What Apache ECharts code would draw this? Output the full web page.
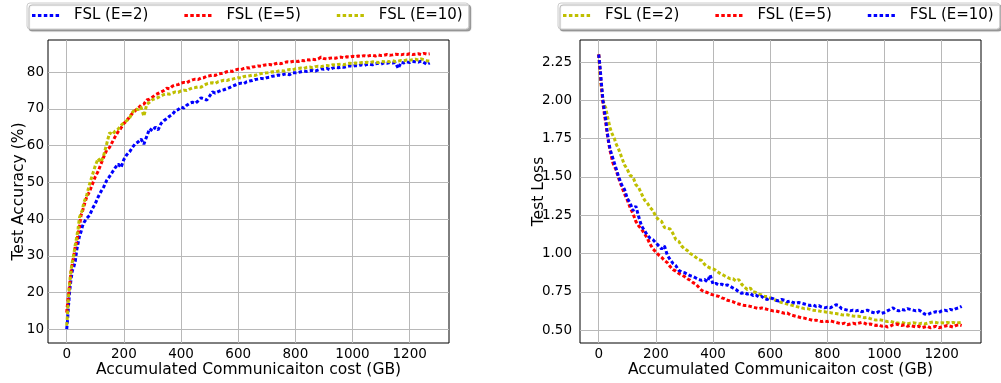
<!DOCTYPE html>
<html>
<head>
<meta charset="utf-8">
<script src="https://cdn.jsdelivr.net/npm/echarts@6/dist/echarts.min.js"></script>
<style>
html,body{margin:0;padding:0;background:#fff;}
#chart{width:1001px;height:383px;}
</style>
</head>
<body>
<div id="chart"></div>
<script>
// ---- data ----
const COST = [0,3,6,10,15,20,25,30,35,40,45,50,55,60,
70,80,90,100,110,120,130,140,150,160,
170,180,190,200,210,220,230,240,250,260,
270,280,290,300,310,320,330,340,350,360,
370,380,390,400,410,420,430,440,450,460,
470,480,490,500,510,520,530,540,550,560,
570,580,590,600,610,620,630,640,650,660,
670,680,690,700,710,720,730,740,750,760,
770,780,790,800,810,820,830,840,850,860,
870,880,890,900,910,920,930,940,950,960,
970,980,990,1000,1010,1020,1030,1040,1050,1060,
1070,1080,1090,1100,1110,1120,1130,1140,1150,1160,
1170,1180,1190,1200,1210,1220,1230,1240,1250,1260,
1270];

// Test accuracy (%) - left panel
const ACC_E2 = [10,12.5,16,20,23.5,26,27,28.5,31.5,33.5,35.5,36.5,38,39,
40.2,41,42.8,44.2,46,47.5,48.8,50.5,51.6,52.8,
54,55,54,56.2,57.5,58.3,59.5,60.5,61,61.8,
60.4,62.5,64.6,64,65,64.3,66,66.8,67.3,68,
68.5,69.5,69.8,70.5,70.2,71,71.5,71.8,71.5,72.2,
73,72.8,72.4,73.5,74.6,74.3,74.7,75,75.2,75.5,
75.8,76.2,76.5,76.8,77,76.9,77.4,77.6,77.7,78,
78.1,78.3,78.2,78.5,78.6,78.9,79,79.2,79.1,79.4,
79.5,79.3,79.8,79.8,79.9,80.1,80.3,80.2,80.4,80.5,
80.3,80.6,80.9,80.8,81,80.7,81.1,81.3,81.2,81.4,
81.3,81.5,81.7,81.6,81.8,81.7,82,81.8,82.1,82.2,
82,82.3,82.4,82.2,82.5,82.4,82.6,82.5,82.6,81,
82.7,82.5,82.8,82.6,82.9,82.8,82.7,83,82.6,82.1,
82.5];
const ACC_E5 = [14.5,17,19,22,25.5,28,30,32.5,33.5,36,38,41,42,43.5,
46,47.5,49.5,51.5,53,55,57,58.8,59.5,61,
62.5,63.8,64.8,66,66.8,67.8,68.8,69.5,70.2,71,
71.3,72.4,72.6,73.2,73.8,74.2,74.6,75,75.6,75.5,
76.2,76.5,76.6,77,77.2,77.1,77.6,77.9,78.1,78,
78.4,78.5,78.9,79,79.2,79.1,79.5,79.6,79.8,80.1,
80.3,80.2,80.6,80.8,80.7,81,81.2,81.1,81.4,81.5,
81.7,81.6,81.9,82,82.1,81.9,82.3,82.5,82.3,82.6,
82.8,82.7,82.9,83,82.9,83.2,83.1,83.4,83.3,83.5,
83.4,83.6,84.1,83.7,83.6,83.8,83.9,83.8,84,84.1,
83.9,84.2,84.1,84.3,84.2,84.4,84.3,84.5,84.3,84.5,
84.6,84.4,84.7,84.5,84.6,84.8,84.6,84.7,84.9,84.8,
84.7,84.9,84.8,85,84.8,84.9,85,84.8,85.1,84.9,
85];
const ACC_E10 = [11,14,18.5,22,26,28.5,30.5,33,35,37.5,40.5,41.5,42.5,44.5,
46.5,49.5,52,54.5,56.5,55.5,57.5,60.5,63.5,63,
64,64.5,65.5,66.2,66.8,67.5,69,70,69.8,70.5,
68,71.2,71.8,72.5,72.8,73.1,73.5,73.9,74.1,74,
74.3,74.6,74.5,74.9,75.1,75,75.4,75.7,75.8,76,
75.9,76.4,76.8,77,77.1,76.9,77.4,77.6,77.8,77.7,
78,78.1,78.3,78.5,78.4,78.8,78.9,79,79.2,79.1,
79.4,79.6,79.7,79.8,79.9,80.1,80,80.3,80.4,80.3,
80.6,80.7,80.6,80.9,81,81.1,81,81.3,81.4,81.2,
81.5,81.6,81.5,81.7,81.8,81.7,82,81.9,82.1,82.2,
82,82.3,82.4,82.3,82.5,82.4,82.6,82.5,82.7,82.6,
82.8,82.7,82.6,82.9,82.8,83,82.8,83.1,82.9,83,
83.2,83.1,83.3,83.2,83.4,83.5,83.3,83.6,83.4,83.1,
83];

// Test loss - right panel
const LOSS_E2 = [2.30,2.22,2.14,2.08,2.00,1.97,1.95,1.90,1.86,1.82,1.79,1.77,1.75,1.72,
1.68,1.63,1.58,1.55,1.51,1.50,1.45,1.43,1.39,1.35,
1.33,1.30,1.28,1.24,1.22,1.21,1.17,1.165,1.16,1.13,
1.09,1.08,1.05,1.03,1.02,1.00,0.99,0.975,0.96,0.955,
0.93,0.915,0.905,0.90,0.89,0.875,0.865,0.855,0.845,0.835,
0.835,0.82,0.83,0.80,0.78,0.765,0.775,0.75,0.745,0.735,
0.73,0.72,0.72,0.71,0.70,0.695,0.685,0.68,0.675,0.67,
0.665,0.66,0.655,0.65,0.645,0.64,0.64,0.635,0.63,0.628,
0.625,0.62,0.62,0.615,0.614,0.61,0.608,0.605,0.60,0.598,
0.60,0.595,0.592,0.59,0.59,0.585,0.58,0.582,0.575,0.57,
0.565,0.568,0.565,0.56,0.555,0.558,0.552,0.548,0.545,0.55,
0.545,0.54,0.545,0.548,0.545,0.54,0.545,0.54,0.545,0.55,
0.553,0.55,0.545,0.548,0.545,0.55,0.545,0.55,0.545,0.548,
0.55];
const LOSS_E5 = [2.30,2.24,2.17,2.08,1.98,1.91,1.85,1.78,1.72,1.67,1.63,1.59,1.57,1.55,
1.49,1.44,1.39,1.35,1.30,1.26,1.21,1.18,1.16,1.13,
1.10,1.06,1.03,1.01,0.99,0.975,0.955,0.94,0.915,0.895,
0.885,0.87,0.86,0.85,0.835,0.825,0.81,0.80,0.78,0.76,
0.75,0.745,0.735,0.73,0.725,0.72,0.71,0.705,0.695,0.69,
0.685,0.675,0.67,0.665,0.66,0.66,0.655,0.65,0.645,0.64,
0.645,0.64,0.635,0.63,0.625,0.625,0.62,0.615,0.61,0.612,
0.60,0.595,0.59,0.585,0.58,0.578,0.572,0.568,0.562,0.565,
0.56,0.555,0.56,0.555,0.56,0.555,0.55,0.545,0.54,0.545,
0.535,0.54,0.545,0.54,0.545,0.55,0.545,0.535,0.54,0.535,
0.53,0.535,0.525,0.53,0.52,0.525,0.535,0.54,0.535,0.53,
0.535,0.525,0.53,0.525,0.52,0.525,0.515,0.52,0.525,0.515,
0.52,0.525,0.515,0.52,0.525,0.53,0.525,0.52,0.53,0.535,
0.53];
const LOSS_E10 = [2.30,2.25,2.19,2.10,2.00,1.93,1.87,1.79,1.73,1.68,1.65,1.62,1.59,1.56,
1.50,1.45,1.42,1.36,1.33,1.28,1.31,1.24,1.18,1.15,
1.12,1.10,1.09,1.07,1.05,1.03,1.05,0.99,0.96,0.935,
0.92,0.89,0.88,0.875,0.865,0.855,0.85,0.84,0.83,0.825,
0.83,0.815,0.86,0.80,0.805,0.795,0.80,0.79,0.795,0.785,
0.775,0.765,0.75,0.74,0.745,0.735,0.74,0.725,0.73,0.715,
0.72,0.705,0.70,0.71,0.705,0.695,0.69,0.70,0.695,0.685,
0.69,0.68,0.675,0.68,0.675,0.67,0.665,0.66,0.665,0.655,
0.66,0.65,0.645,0.65,0.645,0.655,0.665,0.66,0.64,0.635,
0.63,0.625,0.63,0.625,0.63,0.62,0.625,0.63,0.62,0.615,
0.61,0.62,0.61,0.615,0.625,0.635,0.645,0.63,0.625,0.635,
0.63,0.64,0.635,0.63,0.625,0.63,0.62,0.605,0.60,0.61,
0.615,0.62,0.615,0.625,0.63,0.625,0.635,0.63,0.64,0.645,
0.655];

const X_TICKS = [0,200,400,600,800,1000,1200];
const ACC_TICKS = [10,20,30,40,50,60,70,80];
const LOSS_TICKS = [0.5,0.75,1.0,1.25,1.5,1.75,2.0,2.25];
const LEGEND_LEFT = ['FSL (E=2)','FSL (E=5)','FSL (E=10)'];
const LEGEND_RIGHT = ['R:FSL (E=2)','R:FSL (E=5)','R:FSL (E=10)'];

// ---- chart ----
const FONT = 'DejaVu Sans';
const BLUE = '#0000ff', RED = '#ff0000', OLIVE = '#bfbf00';
const DOT_ICON = 'path://M0,0h3.5v3h-3.5z M5.9,0h3.5v3h-3.5z M11.8,0h3.5v3h-3.5z M17.7,0h3.5v3h-3.5z M23.6,0h3.5v3h-3.5z';
const pairs = (xs, ys) => xs.map((x, i) => [x, ys[i]]);

function xAxisCfg(gi) {
  return {
    type: 'value', gridIndex: gi, min: -65.4, max: 1337.6,
    name: 'Accumulated Communicaiton cost (GB)', nameLocation: 'middle', nameGap: 19,
    nameMoveOverlap: false,
    nameTextStyle: {fontSize: 15.5, color: '#000', fontFamily: FONT},
    axisLine: {show: false},
    axisTick: {show: false, customValues: X_TICKS},
    axisLabel: {customValues: X_TICKS, fontSize: 13.5, color: '#000', fontFamily: FONT, margin: 4,
                formatter: v => String(v)},
    splitLine: {show: true, lineStyle: {color: '#b8b8b8', width: 1}}
  };
}
function lineSeries(name, color, gi, ys) {
  return {
    name: name, type: 'line', xAxisIndex: gi, yAxisIndex: gi,
    data: pairs(COST, ys), symbol: 'none', showSymbol: false,
    lineStyle: {color: color, width: 3, type: [3.5, 2.2], cap: 'butt'},
    itemStyle: {color: color}, silent: true
  };
}
function legendCfg(left, names) {
  return {
    left: left, top: 3, width: 480, orient: 'horizontal', data: names,
    icon: DOT_ICON,
    itemWidth: 28, itemHeight: 3, itemGap: 36,
    padding: [5, 6, 6, 5],
    borderColor: '#cccccc', borderWidth: 1, borderRadius: 3, backgroundColor: '#fff',
    shadowColor: 'rgba(0,0,0,0.35)', shadowOffsetX: 2, shadowOffsetY: 2, shadowBlur: 1,
    textStyle: {fontSize: 15, color: '#000', fontFamily: FONT},
    formatter: n => '  ' + n.replace('R:', '')
  };
}

const chart = echarts.init(document.getElementById('chart'), null, {renderer: 'canvas'});
chart.setOption({
  animation: false,
  textStyle: {fontFamily: FONT},
  legend: [legendCfg(27, LEGEND_LEFT), legendCfg(558, LEGEND_RIGHT)],
  grid: [
    {left: 48, top: 40, width: 401, height: 307, show: true, borderColor: '#000', borderWidth: 1, backgroundColor: 'transparent'},
    {left: 580, top: 40, width: 401, height: 307, show: true, borderColor: '#000', borderWidth: 1, backgroundColor: 'transparent'}
  ],
  xAxis: [xAxisCfg(0), xAxisCfg(1)],
  yAxis: [
    {
      type: 'value', gridIndex: 0, min: 6.25, max: 88.75,
      name: 'Test Accuracy (%)', nameLocation: 'middle', nameGap: 21, nameMoveOverlap: false,
      nameTextStyle: {fontSize: 15.5, color: '#000', fontFamily: FONT},
      axisLine: {show: false},
      axisTick: {show: false, customValues: ACC_TICKS},
      axisLabel: {customValues: ACC_TICKS, fontSize: 13.5, color: '#000', fontFamily: FONT, margin: 4},
      splitLine: {show: true, lineStyle: {color: '#b8b8b8', width: 1}}
    },
    {
      type: 'value', gridIndex: 1, min: 0.4155, max: 2.3945,
      name: 'Test Loss', nameLocation: 'middle', nameGap: 33, nameMoveOverlap: false,
      nameTextStyle: {fontSize: 15.5, color: '#000', fontFamily: FONT},
      axisLine: {show: false},
      axisTick: {show: false, customValues: LOSS_TICKS},
      axisLabel: {customValues: LOSS_TICKS, fontSize: 13.5, color: '#000', fontFamily: FONT, margin: 8,
                  formatter: v => v.toFixed(2)},
      splitLine: {show: true, lineStyle: {color: '#b8b8b8', width: 1}}
    }
  ],
  series: [
    lineSeries(LEGEND_LEFT[0], BLUE, 0, ACC_E2),
    lineSeries(LEGEND_LEFT[1], RED, 0, ACC_E5),
    lineSeries(LEGEND_LEFT[2], OLIVE, 0, ACC_E10),
    lineSeries(LEGEND_RIGHT[0], OLIVE, 1, LOSS_E2),
    lineSeries(LEGEND_RIGHT[1], RED, 1, LOSS_E5),
    lineSeries(LEGEND_RIGHT[2], BLUE, 1, LOSS_E10)
  ]
});
</script>
</body>
</html>
